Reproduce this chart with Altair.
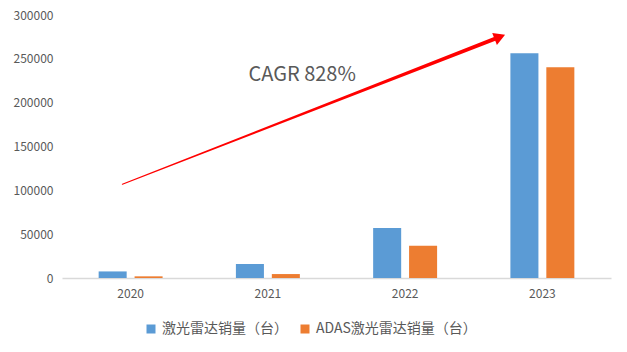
import altair as alt
import pandas as pd

years = ["2020", "2021", "2022", "2023"]
series = ["激光雷达销量（台）", "ADAS激光雷达销量（台）"]
lidar_sales = [7500, 16000, 57000, 256500]
adas_sales = [1900, 4500, 36800, 240500]
colors = ["#5b9bd5", "#ed7d31"]

# annotation (arrow) positions in category-index units / value units
arrow_x = [0.44, 3.19]
arrow_y = [107000, 275000]
arrow_w = [0.15, 5.5]
head_x = [3.19]
head_y = [275000]
label_text = ["CAGR 828%"]
label_x = [1.75]
label_y = [231500]

rows = []
for i, y in enumerate(years):
    rows.append({"year": y, "series": series[0], "value": lidar_sales[i]})
    rows.append({"year": y, "series": series[1], "value": adas_sales[i]})
df = pd.DataFrame(rows)

arrow_df = pd.DataFrame({"x": arrow_x, "y": arrow_y, "w": arrow_w})
head_df = pd.DataFrame({"x": head_x, "y": head_y})
label_df = pd.DataFrame({"x": label_x, "y": label_y, "t": label_text})

FONT = "Noto Sans CJK SC"
GRAY = "#595959"

yscale = alt.Scale(domain=[0, 300000])

bars = alt.Chart(df).mark_bar().encode(
    x=alt.X("year:N", sort=years, title=None,
            scale=alt.Scale(paddingInner=0.534, paddingOuter=0.267),
            axis=alt.Axis(labelAngle=0, labelFont=FONT, labelFontSize=12, labelColor=GRAY,
                          ticks=False, domainColor="#d9d9d9", domainWidth=1.5, labelPadding=10)),
    xOffset=alt.XOffset("series:N", sort=series, scale=alt.Scale(paddingInner=0.22)),
    y=alt.Y("value:Q", scale=yscale, title=None,
            axis=alt.Axis(values=[0, 50000, 100000, 150000, 200000, 250000, 300000],
                          grid=False, domain=False, ticks=False, labelFont=FONT,
                          labelFontSize=12, labelColor=GRAY, labelPadding=9, format="d")),
    color=alt.Color("series:N", sort=series, title=None,
                    scale=alt.Scale(domain=series, range=colors),
                    legend=alt.Legend(orient="none", legendX=82, legendY=307, direction="horizontal",
                                      symbolType="square", symbolSize=81, symbolStrokeWidth=0,
                                      labelFont=FONT, labelFontSize=14, labelColor=GRAY,
                                      labelLimit=400, labelOffset=4, columnPadding=10)),
)

xq = alt.Scale(domain=[0, 4])

trail = alt.Chart(arrow_df).mark_trail(color="#ff0000").encode(
    x=alt.X("x:Q", scale=xq, axis=None),
    y=alt.Y("y:Q", scale=yscale),
    size=alt.Size("w:Q", scale=alt.Scale(type="identity"), legend=None),
)

head = alt.Chart(head_df).mark_point(shape="triangle-up", filled=True, color="#ff0000",
                                     size=170, angle=68.8, opacity=1).encode(
    x=alt.X("x:Q", scale=xq, axis=None),
    y=alt.Y("y:Q", scale=yscale),
)

label = alt.Chart(label_df).mark_text(font=FONT, fontSize=20, color=GRAY).encode(
    x=alt.X("x:Q", scale=xq, axis=None),
    y=alt.Y("y:Q", scale=yscale),
    text="t:N",
)

overlay = alt.layer(trail, head, label)

chart = alt.layer(bars, overlay).resolve_scale(x="independent").properties(
    width=549, height=263,
    autosize=alt.AutoSizeParams(type="none"),
    padding={"left": 62, "top": 15, "right": 16, "bottom": 74},
).configure_view(stroke=None)

chart.save("out.html", embed_options={"renderer": "svg", "actions": False})
